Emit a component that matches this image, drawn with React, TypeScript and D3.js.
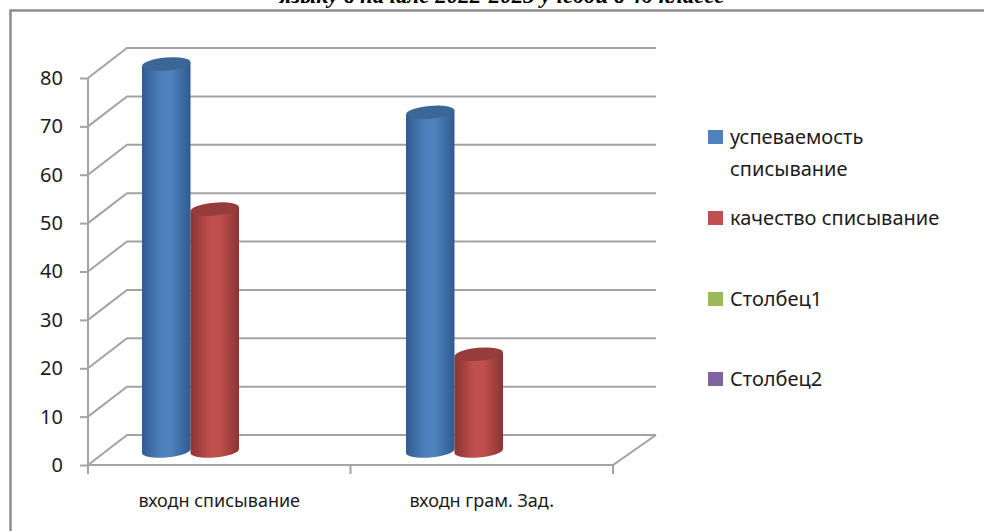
import { useRef, useEffect } from "react";
import * as d3 from "d3";

const title = "языку в начале 2022-2023 учебой в 4б классе";
const categories = ["входн списывание", "входн грам. Зад."];
const seriesNames = ["успеваемость списывание", "качество списывание", "Столбец1", "Столбец2"];
const seriesValues: (number | null)[][] = [
  [80, 70],
  [50, 20],
  [null, null],
  [null, null],
];
const yTicks = [0, 10, 20, 30, 40, 50, 60, 70, 80];

const colors = ["#4f81bd", "#c0504d", "#9bbb59", "#8064a2"];
const darks = ["#2f5b8f", "#8a3432", "#6f8a3c", "#5a4578"];
const tops = ["#3c6696", "#963d3b", "#7a9646", "#644f80"];

const gridColor = "#a3a3a3";
const textColor = "#1c1c1c";
const fontFamily = "'Noto Sans', sans-serif";

const App = () => {
  const svgRef = useRef<SVGSVGElement | null>(null);

  useEffect(() => {
    const width = 984;
    const height = 531;
    const svg = d3.select(svgRef.current).attr("width", width).attr("height", height);
    svg.selectAll("*").remove();

    // wall depth of the fake 3D box
    const depth = { x: 39, y: -30 };
    const plot = { left: 88, right: 613, bottom: 465, top: 78 };

    const y = d3.scaleLinear().domain([0, 80]).range([plot.bottom, plot.top]);
    const x0 = d3.scaleBand<string>().domain(categories).range([plot.left, plot.right]);
    // bars sit a little deeper than the front of the box
    const barBand = d3.scaleBand<string>()
      .domain(categories)
      .range([plot.left + 20, plot.left + 20 + 528])
      .paddingInner(0)
      .paddingOuter(0);
    const x1 = d3.scaleBand<string>()
      .domain(seriesNames)
      .range([34, 34 + 194]);

    const defs = svg.append("defs");
    colors.forEach((c, i) => {
      const grad = defs.append("linearGradient").attr("id", `cyl${i}`);
      grad.append("stop").attr("offset", "0%").attr("stop-color", darks[i]);
      grad.append("stop").attr("offset", "40%").attr("stop-color", c);
      grad.append("stop").attr("offset", "60%").attr("stop-color", c);
      grad.append("stop").attr("offset", "100%").attr("stop-color", darks[i]);
    });

    // title, cut off by the top of the picture
    svg.append("text")
      .attr("x", 502)
      .attr("y", 3)
      .attr("text-anchor", "middle")
      .attr("font-family", "'Liberation Serif', serif")
      .attr("font-weight", "bold")
      .attr("font-style", "italic")
      .attr("font-size", 23)
      .attr("fill", "#000")
      .text(title);

    // outer frame, runs off the right and bottom
    svg.append("rect")
      .attr("x", 10.5)
      .attr("y", 10.5)
      .attr("width", 1000)
      .attr("height", 600)
      .attr("fill", "#fff")
      .attr("stroke", "#8c8c8c")
      .attr("stroke-width", 2.5);

    // gridlines on wall and side
    const grid = svg.append("g").attr("fill", "none").attr("stroke", gridColor).attr("stroke-width", 2);
    yTicks.forEach((t) => {
      const line = d3.line<[number, number]>();
      const pts: [number, number][] = [
        [plot.left, y(t)],
        [plot.left + depth.x, y(t) + depth.y],
        [plot.right + depth.x + 4, y(t) + depth.y],
      ];
      grid.append("path").attr("d", line(pts));
    });
    // floor
    grid.append("path").attr("d", d3.line()([
      [plot.left, y(0)],
      [plot.right, y(0)],
      [plot.right + depth.x + 4, y(0) + depth.y],
    ] as [number, number][]));

    // y axis
    const yAxis = d3.axisLeft(y).tickValues(yTicks).tickSize(8).tickPadding(17);
    const yG = svg.append("g")
      .attr("transform", `translate(${plot.left},0)`)
      .call(yAxis);
    yG.select(".domain").attr("stroke", gridColor).attr("stroke-width", 2).attr("d", `M0,${plot.top}V${plot.bottom + 9}`);
    yG.selectAll(".tick line").attr("stroke", gridColor).attr("stroke-width", 2);
    yG.selectAll("text")
      .attr("font-family", fontFamily)
      .attr("font-size", 20)
      .attr("fill", textColor);

    // x ticks at category boundaries
    const xTicks = [...categories.map((c) => x0(c) as number), plot.right];
    svg.append("g")
      .selectAll("line")
      .data(xTicks)
      .join("line")
      .attr("x1", (d) => d)
      .attr("x2", (d) => d)
      .attr("y1", plot.bottom)
      .attr("y2", plot.bottom + 9)
      .attr("stroke", gridColor)
      .attr("stroke-width", 2);

    svg.append("g")
      .selectAll("text")
      .data(categories)
      .join("text")
      .attr("x", (d) => (x0(d) as number) + x0.bandwidth() / 2)
      .attr("y", 507)
      .attr("text-anchor", "middle")
      .attr("font-family", fontFamily)
      .attr("font-size", 18)
      .attr("fill", textColor)
      .text((d) => d);

    // cylinders
    const zOffset = -14; // bar centre on the floor is behind the front edge
    const ry = 6.5;
    const tilt = -5;
    const rise = 2;
    seriesNames.forEach((name, s) => {
      seriesValues[s].forEach((v, c) => {
        if (v === null) return;
        const left = (barBand(categories[c]) as number) + (x1(name) as number);
        const r = x1.bandwidth() / 2;
        const cx = left + r;
        const yTop = y(v) + zOffset;
        const yBase = y(0) + zOffset;
        svg.append("path")
          .attr("d", `M${cx - r},${yTop + rise}L${cx - r},${yBase + rise}A${r},${ry} ${tilt} 0 0 ${cx + r},${yBase - rise}L${cx + r},${yTop - rise}Z`)
          .attr("fill", `url(#cyl${s})`);
        svg.append("ellipse")
          .attr("cx", cx)
          .attr("cy", yTop)
          .attr("rx", r)
          .attr("ry", ry)
          .attr("transform", `rotate(${tilt} ${cx} ${yTop})`)
          .attr("fill", tops[s]);
      });
    });

    // legend
    const legendRows = [
      { lines: ["успеваемость", "списывание"], swatch: 130 },
      { lines: ["качество списывание"], swatch: 211 },
      { lines: ["Столбец1"], swatch: 292 },
      { lines: ["Столбец2"], swatch: 372 },
    ];
    const legend = svg.append("g");
    legendRows.forEach((row, i) => {
      legend.append("rect")
        .attr("x", 708)
        .attr("y", row.swatch)
        .attr("width", 15)
        .attr("height", 14)
        .attr("fill", colors[i]);
      row.lines.forEach((line, j) => {
        legend.append("text")
          .attr("x", 730)
          .attr("y", row.swatch + 14 + j * 32)
          .attr("font-family", fontFamily)
          .attr("font-size", 20)
          .attr("fill", textColor)
          .text(line);
      });
    });
  }, []);

  return <svg ref={svgRef} style={{ position: "absolute", top: 0, left: 0, display: "block" }} />;
};

export default App;
